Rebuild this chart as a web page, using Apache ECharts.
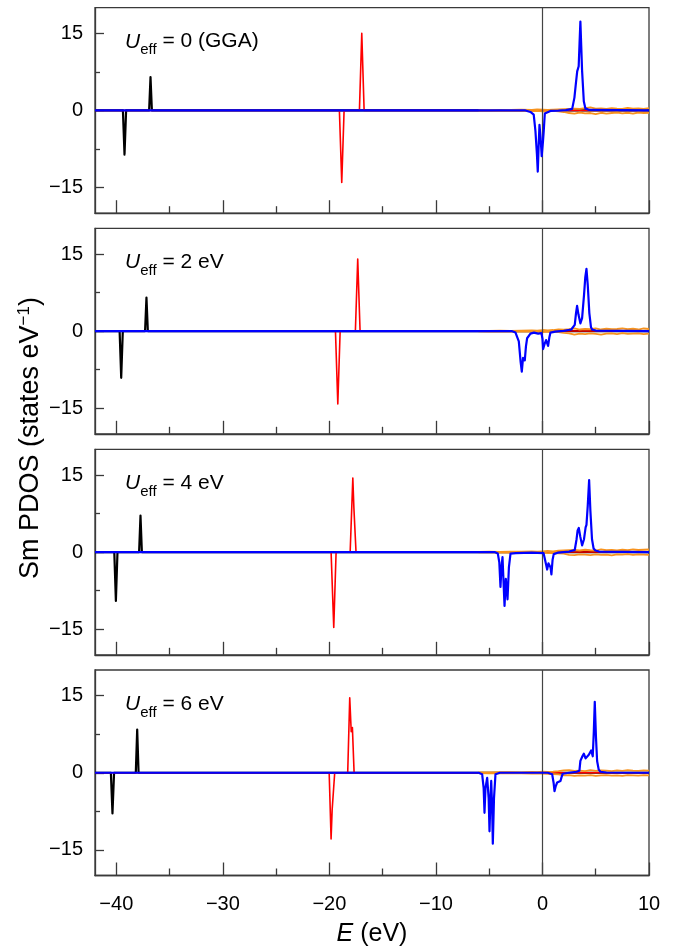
<!DOCTYPE html>
<html>
<head>
<meta charset="utf-8">
<script src="https://cdn.jsdelivr.net/npm/echarts@6/dist/echarts.min.js"></script>
<style>
  html, body { margin: 0; padding: 0; background: #fff; }
  #chart { width: 683px; height: 947px; }
</style>
</head>
<body>
<div id="chart"></div>
<script>
// Sm projected DOS for four Hubbard-U settings (energy in eV, DOS in states/eV).
// Positive values: spin up, negative values: spin down.

const E_MIN = -42, E_MAX = 10;
const DOS_MIN = -20, DOS_MAX = 20;
const FERMI = 0;

const E_TICKS = [-40, -30, -20, -10, 0, 10];
const E_MINOR_TICKS = [-35, -25, -15, -5, 5];
const DOS_TICKS = [-15, 0, 15];
const DOS_MINOR_TICKS = [-7.5, 7.5];

const PANEL_LABELS = ['0 (GGA)', '2 eV', '4 eV', '6 eV'];

// Sm 5s (black)
const u0Black = [[-42,0],[-39.38,0],[-39.23,-8.6],[-39.08,0],[-36.92,0],[-36.79,6.5],[-36.66,0],[10,0]];
const u2Black = [[-42,0],[-39.69,0],[-39.54,-9.1],[-39.39,0],[-37.30,0],[-37.17,6.5],[-37.04,0],[10,0]];
const u4Black = [[-42,0],[-40.19,0],[-40.04,-9.5],[-39.89,0],[-37.86,0],[-37.73,7.1],[-37.60,0],[10,0]];
const u6Black = [[-42,0],[-40.51,0],[-40.36,-7.9],[-40.21,0],[-38.17,0],[-38.04,8.4],[-37.91,0],[10,0]];

// Sm 5p (red)
const u0Red = [[-42,0],[-19.06,0],[-18.84,-14.0],[-18.62,0],[-17.18,0],[-16.96,15.0],[-16.74,0],[10,0]];
const u2Red = [[-42,0],[-19.43,0],[-19.21,-14.2],[-18.99,0],[-17.56,0],[-17.34,14.0],[-17.12,0],[10,0]];
const u4Red = [[-42,0],[-19.84,0],[-19.59,-14.7],[-19.37,0],[-18.05,0],[-17.80,14.4],[-17.70,8.6],[-17.62,8.8],[-17.50,0],[10,0]];
const u6Red = [[-42,0],[-20.02,0],[-19.84,-12.9],[-19.74,-7.2],[-19.68,-7.5],[-19.50,0],[-18.28,0],[-18.09,14.6],[-17.95,8.0],[-17.84,8.8],[-17.68,0],[10,0]];

// Sm 4f (blue)
const u0Blue = [[-42,0],[-1.6,0],[-1.13,-0.3],[-0.82,-0.8],[-0.66,-4.0],[-0.52,-8.5],[-0.44,-11.9],[-0.36,-7.0],[-0.28,-2.8],[-0.17,-5.5],[-0.07,-8.9],[0.05,-6.0],[0.12,-4.0],[0.22,-0.6],[0.4,-0.3],[0.75,-0.1],[1.5,-0.05],[2.2,0.05],[2.79,0.3],[3.0,2.5],[3.15,5.5],[3.26,7.6],[3.4,8.6],[3.48,13.0],[3.56,17.3],[3.64,12.5],[3.72,7.7],[3.88,1.8],[4.03,0.4],[4.4,0.1],[10,0]];
const u2Blue = [[-42,0],[-2.9,0],[-2.53,-0.3],[-2.22,-2.0],[-2.05,-6.0],[-1.94,-7.9],[-1.82,-5.2],[-1.66,-5.7],[-1.55,-3.0],[-1.44,-1.4],[-1.13,-0.5],[-0.8,-0.3],[-0.4,-0.5],[-0.1,-0.4],[0.0,-1.5],[0.06,-3.5],[0.2,-2.5],[0.34,-1.75],[0.53,-2.9],[0.65,-1.2],[0.75,-0.3],[1.2,-0.1],[2.0,0.05],[2.7,0.3],[3.03,1.2],[3.15,3.5],[3.25,4.9],[3.38,3.2],[3.56,1.5],[3.72,2.5],[3.9,7.0],[4.02,10.5],[4.13,12.1],[4.25,9.0],[4.4,3.5],[4.55,0.8],[4.66,0.3],[5.0,0.1],[10,0]];
const u4Blue = [[-42,0],[-4.5,0],[-4.19,-0.3],[-4.05,-2.0],[-3.94,-6.8],[-3.85,-3.0],[-3.75,-1.0],[-3.65,-6.0],[-3.56,-10.5],[-3.44,-5.2],[-3.28,-9.2],[-3.15,-3.0],[-3.0,-0.3],[-2.5,-0.2],[-1.0,-0.1],[0.1,-0.2],[0.22,-0.5],[0.35,-2.5],[0.44,-3.4],[0.56,-2.2],[0.66,-1.9],[0.76,-3.0],[0.84,-4.35],[0.95,-1.5],[1.06,-0.4],[1.5,-0.1],[2.5,0.1],[3.03,0.4],[3.2,2.5],[3.3,4.2],[3.41,4.7],[3.55,3.0],[3.72,1.3],[3.9,2.5],[4.05,4.8],[4.13,5.3],[4.25,9.0],[4.38,14.0],[4.5,8.0],[4.65,2.5],[4.8,0.7],[4.97,0.3],[5.3,0.1],[10,0]];
const u6Blue = [[-42,0],[-6.0,0],[-5.66,-0.3],[-5.52,-3.0],[-5.44,-7.8],[-5.35,-3.0],[-5.19,-1.0],[-5.05,-5.0],[-4.97,-11.4],[-4.88,-5.0],[-4.81,-1.6],[-4.72,-7.0],[-4.66,-13.8],[-4.55,-5.0],[-4.41,-0.3],[-4.0,0],[0.5,0],[0.91,-0.3],[1.05,-2.0],[1.13,-3.6],[1.25,-2.6],[1.38,-1.9],[1.55,-1.8],[1.69,-1.6],[1.8,-0.8],[1.9,-0.2],[2.5,0],[3.2,0.2],[3.47,0.4],[3.56,2.3],[3.75,3.2],[3.88,3.7],[4.05,2.8],[4.19,2.6],[4.35,3.5],[4.57,4.35],[4.72,3.2],[4.82,8.0],[4.91,13.8],[5.02,7.0],[5.13,2.3],[5.28,0.6],[5.44,0.2],[6.0,0.05],[10,0]];

// Sm 5d (orange), sampled on a common energy grid
const ORANGE_E = [-6,-5,-4,-3,-2,-1,-0.5,0,0.5,1,1.5,2,2.5,3,3.5,4,4.5,5,5.5,6,6.5,7,7.5,8,8.5,9,9.5,10];
const u0OrangeUp = [0.05,0.1,0.05,0.1,0.15,0.1,0.2,0.15,0.1,0.15,0.2,0.25,0.3,0.35,0.3,0.45,0.6,0.35,0.4,0.3,0.45,0.35,0.3,0.5,0.35,0.4,0.3,0.45];
const u0OrangeDn = [-0.05,-0.05,-0.1,-0.05,-0.1,-0.15,-0.1,-0.2,-0.15,-0.1,-0.2,-0.3,-0.5,-0.6,-0.4,-0.55,-0.5,-0.7,-0.45,-0.6,-0.5,-0.4,-0.55,-0.45,-0.6,-0.4,-0.5,-0.45];
const u2OrangeUp = [0.05,0.05,0.1,0.05,0.1,0.15,0.1,0.2,0.15,0.2,0.3,0.25,0.35,0.5,0.3,0.4,0.35,0.5,0.3,0.45,0.35,0.4,0.5,0.35,0.45,0.3,0.5,0.4];
const u2OrangeDn = [-0.05,-0.1,-0.05,-0.1,-0.1,-0.1,-0.15,-0.2,-0.1,-0.15,-0.2,-0.35,-0.45,-0.7,-0.5,-0.6,-0.45,-0.55,-0.7,-0.5,-0.45,-0.6,-0.4,-0.55,-0.5,-0.45,-0.6,-0.5];
const u4OrangeUp = [0.05,0.1,0.05,0.1,0.1,0.15,0.1,0.15,0.2,0.15,0.25,0.3,0.35,0.4,0.3,0.45,0.35,0.3,0.5,0.35,0.4,0.3,0.45,0.35,0.5,0.4,0.45,0.5];
const u4OrangeDn = [-0.05,-0.05,-0.1,-0.1,-0.05,-0.1,-0.15,-0.1,-0.2,-0.15,-0.25,-0.3,-0.55,-0.6,-0.45,-0.5,-0.6,-0.45,-0.55,-0.5,-0.65,-0.45,-0.5,-0.4,-0.55,-0.45,-0.5,-0.55];
const u6OrangeUp = [0.05,0.05,0.1,0.1,0.05,0.15,0.1,0.2,0.15,0.2,0.3,0.45,0.5,0.35,0.4,0.3,0.5,0.35,0.45,0.4,0.3,0.45,0.35,0.5,0.4,0.35,0.45,0.4];
const u6OrangeDn = [-0.05,-0.1,-0.05,-0.1,-0.1,-0.15,-0.1,-0.15,-0.2,-0.25,-0.3,-0.5,-0.45,-0.6,-0.5,-0.55,-0.45,-0.6,-0.5,-0.45,-0.55,-0.5,-0.6,-0.45,-0.5,-0.55,-0.45,-0.5];

const PANELS = [
  { black: u0Black, red: u0Red, blue: u0Blue, orangeUp: u0OrangeUp, orangeDn: u0OrangeDn },
  { black: u2Black, red: u2Red, blue: u2Blue, orangeUp: u2OrangeUp, orangeDn: u2OrangeDn },
  { black: u4Black, red: u4Red, blue: u4Blue, orangeUp: u4OrangeUp, orangeDn: u4OrangeDn },
  { black: u6Black, red: u6Red, blue: u6Blue, orangeUp: u6OrangeUp, orangeDn: u6OrangeDn }
];

// ---- layout ----
const FONT = "'Liberation Sans', Arial, sans-serif";
const FRAME = '#3a3a3a';
const GRID_LEFT = 95, GRID_WIDTH = 554, GRID_HEIGHT = 205.5;
const GRID_TOPS = [7.7, 228.3, 449.3, 670];
const AXES_PER_GRID = 3;

const minus = v => String(v).replace('-', '\u2212');

const grids = [], xAxes = [], yAxes = [], series = [], graphics = [];

// an axis that draws only tick marks at the given values
const tickAxis = (gridIndex, position, min, max, values, length) => ({
  type: 'value', gridIndex, position, min, max,
  axisLine: { show: false, onZero: false },
  axisTick: { show: true, inside: true, length, customValues: values, lineStyle: { color: FRAME, width: 1.3 } },
  axisLabel: { show: false },
  splitLine: { show: false }
});

PANELS.forEach((p, i) => {
  grids.push({
    left: GRID_LEFT, top: GRID_TOPS[i], width: GRID_WIDTH, height: GRID_HEIGHT,
    show: true, borderColor: FRAME, borderWidth: 1.3, backgroundColor: 'transparent'
  });
  const isBottom = i === PANELS.length - 1;

  // x: frame line + labels (labels on the bottom panel only)
  xAxes.push({
    type: 'value', gridIndex: i, position: 'bottom', min: E_MIN, max: E_MAX,
    axisLine: { show: true, onZero: false, lineStyle: { color: FRAME, width: 1.3 } },
    axisTick: { show: false },
    axisLabel: { show: isBottom, customValues: E_TICKS, margin: 19, color: '#000', fontSize: 20, fontFamily: FONT, formatter: minus },
    splitLine: { show: false }
  });
  xAxes.push(tickAxis(i, 'bottom', E_MIN, E_MAX, E_TICKS, 13));
  xAxes.push(tickAxis(i, 'bottom', E_MIN, E_MAX, E_MINOR_TICKS, 7));

  // y: frame line + labels
  yAxes.push({
    type: 'value', gridIndex: i, position: 'left', min: DOS_MIN, max: DOS_MAX,
    axisLine: { show: true, onZero: false, lineStyle: { color: FRAME, width: 1.3 } },
    axisTick: { show: false },
    axisLabel: { show: true, customValues: DOS_TICKS, margin: 12, color: '#000', fontSize: 20, fontFamily: FONT, formatter: minus },
    splitLine: { show: false }
  });
  yAxes.push(tickAxis(i, 'left', DOS_MIN, DOS_MAX, DOS_TICKS, 9));
  yAxes.push(tickAxis(i, 'left', DOS_MIN, DOS_MAX, DOS_MINOR_TICKS, 5));

  const xi = AXES_PER_GRID * i, yi = AXES_PER_GRID * i;
  const line = (name, data, color, width, z) => ({
    name, type: 'line', xAxisIndex: xi, yAxisIndex: yi, data,
    showSymbol: false, symbol: 'none', silent: true, animation: false, z,
    lineStyle: { color, width, join: 'round' }
  });

  // Fermi level
  series.push({
    type: 'line', xAxisIndex: xi, yAxisIndex: yi, data: [], silent: true, animation: false, z: 1,
    markLine: {
      silent: true, symbol: ['none', 'none'], label: { show: false },
      lineStyle: { color: '#444', width: 1.2, type: 'solid' },
      data: [{ xAxis: FERMI }]
    }
  });
  series.push(line('5s', p.black, '#000000', 2.2, 2));
  series.push(line('5p', p.red, '#ff0000', 1.6, 3));
  series.push(line('5d up', ORANGE_E.map((e, k) => [e, p.orangeUp[k]]), '#f7931e', 1.8, 4));
  series.push(line('5d down', ORANGE_E.map((e, k) => [e, p.orangeDn[k]]), '#f7931e', 1.8, 4));
  series.push(line('4f', p.blue, '#0000ff', 2.2, 5));

  // panel caption: U_eff = ...
  graphics.push({
    type: 'text', x: 125, y: GRID_TOPS[i] + 34, z: 10,
    style: {
      text: '{u|U}{s|eff}{t| = ' + PANEL_LABELS[i] + '}',
      verticalAlign: 'middle', align: 'left',
      rich: {
        u: { fontStyle: 'italic', fontSize: 21, fontFamily: FONT, fill: '#000', lineHeight: 24 },
        s: { fontSize: 15, fontFamily: FONT, fill: '#000', lineHeight: 15, verticalAlign: 'bottom', padding: [0, 0, -4, 0] },
        t: { fontSize: 21, fontFamily: FONT, fill: '#000', lineHeight: 24 }
      }
    }
  });
});

// axis titles
graphics.push({
  type: 'text', x: 31, y: 438, rotation: Math.PI / 2, z: 10,
  style: {
    text: '{m|Sm PDOS (states eV}{sup|\u22121}{m|)}',
    align: 'center', verticalAlign: 'middle',
    rich: {
      m: { fontSize: 27, fontFamily: FONT, fill: '#000', lineHeight: 31 },
      sup: { fontSize: 17, fontFamily: FONT, fill: '#000', lineHeight: 17, verticalAlign: 'top' }
    }
  }
});
graphics.push({
  type: 'text', x: GRID_LEFT + GRID_WIDTH / 2, y: 934, z: 10,
  style: {
    text: '{i|E}{m| (eV)}',
    align: 'center', verticalAlign: 'middle',
    rich: {
      i: { fontStyle: 'italic', fontSize: 25, fontFamily: FONT, fill: '#000', lineHeight: 28 },
      m: { fontSize: 25, fontFamily: FONT, fill: '#000', lineHeight: 28 }
    }
  }
});

const chart = echarts.init(document.getElementById('chart'), null, { renderer: 'canvas' });
chart.setOption({
  animation: false,
  backgroundColor: '#ffffff',
  grid: grids,
  xAxis: xAxes,
  yAxis: yAxes,
  series: series,
  graphic: graphics
});
</script>
</body>
</html>
